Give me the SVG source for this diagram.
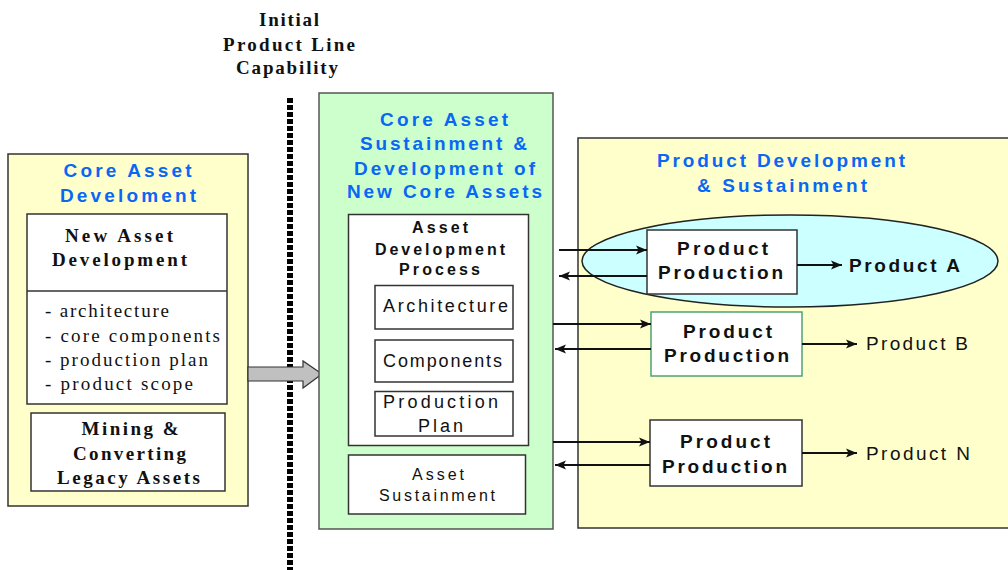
<svg xmlns="http://www.w3.org/2000/svg" width="1008" height="570" viewBox="0 0 1008 570">
<defs>
<style>
.bg{fill:#ffffff}
.yel{fill:#FFFFCC;stroke:#333;stroke-width:1.5}
.grn{fill:#CCFFCC;stroke:#555;stroke-width:1.5}
.box{fill:#ffffff;stroke:#333;stroke-width:1.5}
.boxg{fill:#ffffff;stroke:#4CA374;stroke-width:1.5}
.ell{fill:#CCFFFF;stroke:#222;stroke-width:1.5}
.blue{font-family:"Liberation Sans",Arial,sans-serif;font-weight:bold;font-size:19px;fill:#0A66F5;text-anchor:middle}
.serb{font-family:"Liberation Serif","Times New Roman",serif;font-weight:bold;font-size:19px;fill:#111;text-anchor:middle}
.ser{font-family:"Liberation Serif","Times New Roman",serif;font-size:19px;fill:#111}
.sb{font-family:"Liberation Sans",Arial,sans-serif;font-weight:bold;font-size:19px;fill:#111;text-anchor:middle}
.sb16{font-family:"Liberation Sans",Arial,sans-serif;font-weight:bold;font-size:16px;fill:#111;text-anchor:middle}
.s18{font-family:"Liberation Sans",Arial,sans-serif;font-size:18px;fill:#111;text-anchor:middle}
.s16{font-family:"Liberation Sans",Arial,sans-serif;font-size:16px;fill:#111;text-anchor:middle}
.s19{font-family:"Liberation Sans",Arial,sans-serif;font-size:19px;fill:#111}
.sb19{font-family:"Liberation Sans",Arial,sans-serif;font-weight:bold;font-size:19px;fill:#111}
.con{stroke:#111;stroke-width:2;fill:none;marker-end:url(#ah)}
</style>
<marker id="ah" markerUnits="userSpaceOnUse" markerWidth="12" markerHeight="10" refX="11" refY="5" orient="auto">
<path d="M0,0.5 L11,5 L0,9.5 L2.5,5 Z" fill="#111"/>
</marker>
</defs>
<rect class="bg" x="0" y="0" width="1008" height="570"/>

<g id="title-initial">
<text class="serb" x="289" y="26" textLength="60" lengthAdjust="spacing">Initial</text>
<text class="serb" x="289" y="51" textLength="132" lengthAdjust="spacing">Product Line</text>
<text class="serb" x="287" y="74" textLength="102" lengthAdjust="spacing">Capability</text>
</g>

<g id="divider">
<line x1="290" y1="98" x2="290" y2="570" stroke="#000" stroke-width="6" stroke-dasharray="5 2"/>
</g>

<g id="core-asset-development">
<rect class="yel" x="8" y="154" width="240" height="352"/>
<text class="blue" x="127.5" y="177" textLength="128" lengthAdjust="spacing">Core Asset</text>
<text class="blue" x="128" y="202" textLength="136" lengthAdjust="spacing">Develoment</text>
</g>

<g id="new-asset-development">
<rect class="box" x="27" y="214" width="200" height="190"/>
<line x1="27" y1="291" x2="227" y2="291" stroke="#333" stroke-width="1.5"/>
<text class="serb" x="119" y="242" textLength="108" lengthAdjust="spacing">New Asset</text>
<text class="serb" x="119.5" y="266" textLength="135" lengthAdjust="spacing">Development</text>
<text class="ser" x="45" y="317" textLength="124" lengthAdjust="spacing">- architecture</text>
<text class="ser" x="45" y="342" textLength="175" lengthAdjust="spacing">- core components</text>
<text class="ser" x="45" y="366" textLength="163" lengthAdjust="spacing">- production plan</text>
<text class="ser" x="45" y="390" textLength="148" lengthAdjust="spacing">- product scope</text>
</g>

<g id="mining-legacy">
<rect class="box" x="31" y="413" width="194" height="78"/>
<text class="serb" x="130" y="435" textLength="97" lengthAdjust="spacing">Mining &amp;</text>
<text class="serb" x="129.5" y="460" textLength="113" lengthAdjust="spacing">Converting</text>
<text class="serb" x="128.5" y="484" textLength="143" lengthAdjust="spacing">Legacy Assets</text>
</g>

<g id="transition-arrow">
<polygon points="248,367 303,367 303,361 322,374 303,388 303,381 248,381" fill="#C0C0C0" stroke="#333" stroke-width="1.2"/>
</g>

<g id="core-asset-sustainment">
<rect class="grn" x="319" y="93" width="234" height="436"/>
<text class="blue" x="444" y="126" textLength="128" lengthAdjust="spacing">Core Asset</text>
<text class="blue" x="443.5" y="150" textLength="167" lengthAdjust="spacing">Sustainment &amp;</text>
<text class="blue" x="444.5" y="175" textLength="181" lengthAdjust="spacing">Development of</text>
<text class="blue" x="444.5" y="198" textLength="195" lengthAdjust="spacing">New Core Assets</text>
</g>

<g id="asset-development-process">
<rect class="box" x="348.5" y="214.5" width="180" height="231"/>
<text class="sb16" x="440" y="233" textLength="56" lengthAdjust="spacing">Asset</text>
<text class="sb16" x="440" y="255" textLength="130" lengthAdjust="spacing">Development</text>
<text class="sb16" x="439.5" y="275" textLength="81" lengthAdjust="spacing">Process</text>
</g>

<g id="architecture">
<rect class="box" x="375" y="285.5" width="138" height="43.5"/>
<text class="s18" x="445.5" y="312" textLength="125" lengthAdjust="spacing">Architecture</text>
</g>

<g id="components">
<rect class="box" x="375" y="340" width="138" height="42"/>
<text class="s18" x="442.5" y="367" textLength="119" lengthAdjust="spacing">Components</text>
</g>

<g id="production-plan">
<rect class="box" x="375" y="391.5" width="138" height="44.5"/>
<text class="s18" x="440.5" y="408" textLength="115" lengthAdjust="spacing">Production</text>
<text class="s18" x="440.5" y="432" textLength="45" lengthAdjust="spacing">Plan</text>
</g>

<g id="asset-sustainment">
<rect class="box" x="348.5" y="455" width="177" height="59"/>
<text class="s16" x="438" y="480" textLength="52" lengthAdjust="spacing">Asset</text>
<text class="s16" x="437" y="501" textLength="116" lengthAdjust="spacing">Sustainment</text>
</g>

<g id="product-development-sustainment">
<rect class="yel" x="578" y="138" width="440" height="390"/>
<text class="blue" x="781" y="167" textLength="248" lengthAdjust="spacing">Product Development</text>
<text class="blue" x="782" y="192" textLength="170" lengthAdjust="spacing">&amp; Sustainment</text>
</g>

<g id="product-a-scope">
<ellipse class="ell" cx="790" cy="261" rx="208" ry="46"/>
</g>

<g id="product-production-a">
<rect class="box" x="647" y="230" width="150" height="64"/>
<text class="sb" x="722.5" y="255" textLength="91" lengthAdjust="spacing">Product</text>
<text class="sb" x="720.5" y="279" textLength="125" lengthAdjust="spacing">Production</text>
</g>

<g id="product-a">
<text class="sb19" x="849" y="272" textLength="111" lengthAdjust="spacing">Product A</text>
</g>

<g id="product-production-b">
<rect class="boxg" x="651" y="312" width="151" height="64"/>
<text class="sb" x="727.5" y="338" textLength="89" lengthAdjust="spacing">Product</text>
<text class="sb" x="726.5" y="362" textLength="125" lengthAdjust="spacing">Production</text>
</g>

<g id="product-b">
<text class="s19" x="866" y="350" textLength="102" lengthAdjust="spacing">Product B</text>
</g>

<g id="product-production-n">
<rect class="box" x="650" y="420" width="152" height="66"/>
<text class="sb" x="725" y="448" textLength="90" lengthAdjust="spacing">Product</text>
<text class="sb" x="724.5" y="473" textLength="125" lengthAdjust="spacing">Production</text>
</g>

<g id="product-n">
<text class="s19" x="866" y="460" textLength="104" lengthAdjust="spacing">Product N</text>
</g>

<g id="connectors">
<path class="con" d="M559,250 H647"/>
<path class="con" d="M647,276 H559"/>
<path class="con" d="M553,324 H651"/>
<path class="con" d="M651,349 H555"/>
<path class="con" d="M553,442 H650"/>
<path class="con" d="M650,465 H555"/>
<path class="con" d="M797,265 H842"/>
<path class="con" d="M802,344 H857"/>
<path class="con" d="M802,453 H857"/>
</g>
</svg>
